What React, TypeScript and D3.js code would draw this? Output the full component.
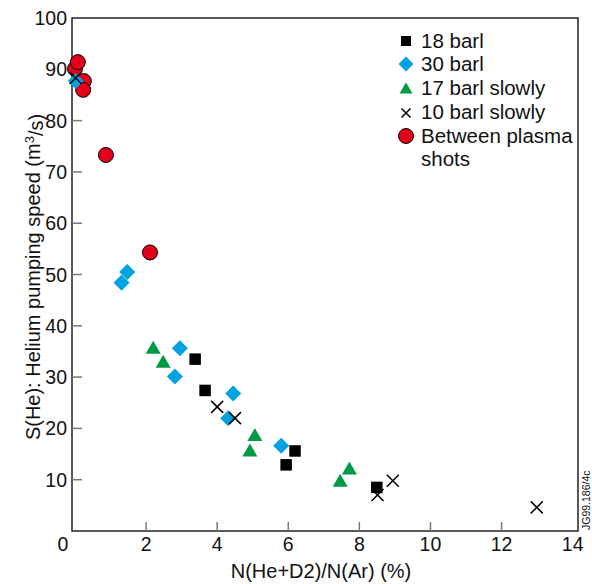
import React from "react";
import * as d3 from "d3";

const xTicks = [0, 2, 4, 6, 8, 10, 12, 14];
const yTicks = [10, 20, 30, 40, 50, 60, 70, 80, 90, 100];

const bar18: [number, number][] = [[3.38, 33.5], [3.66, 27.4], [5.94, 12.9], [6.19, 15.6], [8.49, 8.5]];
const bar30: [number, number][] = [[0.02, 87.7], [1.31, 48.4], [1.47, 50.5], [2.81, 30.1], [2.95, 35.6], [4.31, 22.0], [4.45, 26.8], [5.8, 16.6]];
const bar17slow: [number, number][] = [[2.2, 35.8], [2.48, 33.1], [4.92, 15.8], [5.06, 18.8], [7.46, 9.9], [7.72, 12.3]];
const bar10slow: [number, number][] = [[0.02, 88.3], [4.0, 24.2], [4.5, 22.0], [8.51, 7.0], [8.94, 9.8], [12.99, 4.6]];
const betweenShots: [number, number][] = [[0.0, 90.1], [0.08, 91.4], [0.25, 87.7], [0.23, 86.0], [0.87, 73.3], [2.11, 54.3]];

const legendLabels = ["18 barl", "30 barl", "17 barl slowly", "10 barl slowly", "Between plasma", "shots"];

const FONT = "'Liberation Sans', Arial, Helvetica, sans-serif";
const BLUE = "#00a3e0";
const GREEN = "#009a44";
const RED = "#e2001a";

const left = 72, right = 578, top = 18, bottom = 531;
const x = d3.scaleLinear().domain([-0.084, 14.15]).range([left, right]);
const y = d3.scaleLinear().domain([0, 100]).range([bottom, top]);

function Square({ cx, cy, s = 11.5 }: { cx: number; cy: number; s?: number }) {
  return <rect x={cx - s / 2} y={cy - s / 2} width={s} height={s} fill="#000" />;
}
function Diamond({ cx, cy, r = 8 }: { cx: number; cy: number; r?: number }) {
  return <path d={`M${cx},${cy - r}L${cx + r},${cy}L${cx},${cy + r}L${cx - r},${cy}Z`} fill={BLUE} />;
}
function Tri({ cx, cy, w = 15, h = 13 }: { cx: number; cy: number; w?: number; h?: number }) {
  return <path d={`M${cx},${cy - h / 2}L${cx + w / 2},${cy + h / 2}L${cx - w / 2},${cy + h / 2}Z`} fill={GREEN} />;
}
function Cross({ cx, cy, r = 6 }: { cx: number; cy: number; r?: number }) {
  return (
    <path d={`M${cx - r},${cy - r}L${cx + r},${cy + r}M${cx - r},${cy + r}L${cx + r},${cy - r}`} stroke="#000" strokeWidth={1.5} fill="none" />
  );
}
function Circ({ cx, cy, r = 7.5 }: { cx: number; cy: number; r?: number }) {
  return <circle cx={cx} cy={cy} r={r} fill={RED} stroke="#000" strokeWidth={1} />;
}

export default function App() {
  const legY = [41, 64, 88, 112, 136, 159];
  const legX = 406;
  return (
    <svg width={592} height={584} style={{ position: "absolute", left: 0, top: 0, background: "#fff" }} fontFamily={FONT}>
      {/* frame */}
      <rect x={left} y={top} width={right - left} height={bottom - top} fill="none" stroke="#222" strokeWidth={1.5} />
      {/* y ticks */}
      {yTicks.filter((t) => t < 100).map((t) => (
        <line key={"yt" + t} x1={left} x2={left + 10} y1={y(t)} y2={y(t)} stroke="#777" strokeWidth={1.5} />
      ))}
      {yTicks.map((t) => (
        <text key={"yl" + t} x={67} y={y(t)} dy="0.36em" textAnchor="end" fontSize={19.5} fill="#111">{t}</text>
      ))}
      {/* x ticks */}
      {xTicks.filter((t) => t > 0 && t < 14).map((t) => (
        <line key={"xt" + t} x1={x(t)} x2={x(t)} y1={bottom} y2={bottom - 9} stroke="#777" strokeWidth={1.5} />
      ))}
      {xTicks.map((t) => (
        <text key={"xl" + t} x={t === 0 ? 63 : x(t)} y={551} textAnchor="middle" fontSize={19.5} fill="#111">{t}</text>
      ))}
      {/* axis titles */}
      <text x={321} y={578} textAnchor="middle" fontSize={20} fill="#111">N(He+D2)/N(Ar) (%)</text>
      <text transform="translate(40,277) rotate(-90)" textAnchor="middle" fontSize={20} fill="#111">
        S(He): Helium pumping speed (m<tspan dy="-0.45em" fontSize={13}>3</tspan><tspan dy="0.45em">/s)</tspan>
      </text>
      <text transform="translate(590,530) rotate(-90)" textAnchor="start" fontSize={10.5} fill="#111">JG99.186/4c</text>

      {/* data */}
      {betweenShots.map(([a, b], i) => <Circ key={"c" + i} cx={x(a)} cy={y(b)} />)}
      {bar30.map(([a, b], i) => <Diamond key={"d" + i} cx={x(a)} cy={y(b)} />)}
      {bar18.map(([a, b], i) => <Square key={"s" + i} cx={x(a)} cy={y(b)} />)}
      {bar17slow.map(([a, b], i) => <Tri key={"t" + i} cx={x(a)} cy={y(b)} />)}
      {bar10slow.map(([a, b], i) => <Cross key={"x" + i} cx={x(a)} cy={y(b)} />)}

      {/* legend */}
      <Square cx={legX} cy={legY[0]} s={10} />
      <Diamond cx={legX} cy={legY[1]} r={7.5} />
      <Tri cx={legX} cy={legY[2]} w={13} h={11} />
      <Cross cx={legX} cy={legY[3] + 1} r={4.5} />
      <Circ cx={legX} cy={legY[4]} r={7.5} />
      {legendLabels.map((l, i) => (
        <text key={"lg" + i} x={421} y={legY[i]} dy="0.36em" fontSize={20.5} fill="#111">{l}</text>
      ))}
    </svg>
  );
}
